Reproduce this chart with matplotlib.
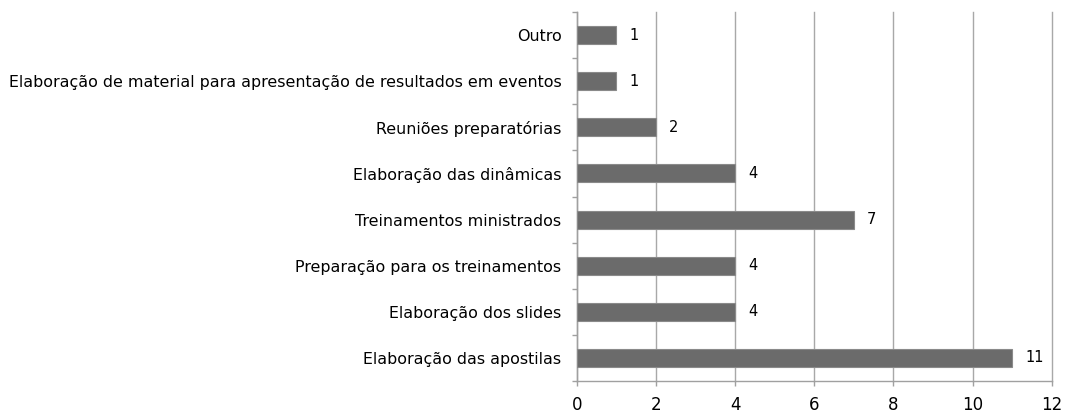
import matplotlib.pyplot as plt

categories = [
    'Elaboração das apostilas',
    'Elaboração dos slides',
    'Preparação para os treinamentos',
    'Treinamentos ministrados',
    'Elaboração das dinâmicas',
    'Reuniões preparatórias',
    'Elaboração de material para apresentação de resultados em eventos',
    'Outro',
]
values = [11, 4, 4, 7, 4, 2, 1, 1]
xticks = [0, 2, 4, 6, 8, 10, 12]

fig = plt.figure(figsize=(10.76, 4.15), dpi=100)
ax = fig.add_axes([0.536, 0.082, 0.4414, 0.889])

pos = list(range(len(categories)))
ax.barh(pos, values, height=0.39, color='#6b6b6b', edgecolor='#8a8a8a', linewidth=0.8, zorder=3)
for p, v in zip(pos, values):
    ax.text(v + 0.33, p, str(v), va='center', ha='left', fontsize=10.5, color='#000000')

ax.set_xlim(0, 12)
ax.set_ylim(-0.5, len(categories) - 0.5)
ax.set_xticks(xticks)
ax.set_xticklabels([str(t) for t in xticks], fontsize=12)
ax.set_yticks(pos)
ax.set_yticklabels(categories, fontsize=11.45)
ax.set_yticks([p - 0.5 for p in pos] + [len(categories) - 0.5], minor=True)
ax.tick_params(axis='y', which='major', length=0, pad=11)
ax.tick_params(axis='y', which='minor', length=3.6, color='#a0a0a0', width=1)
ax.tick_params(axis='x', length=3.6, color='#a0a0a0', width=1, pad=7)
ax.grid(axis='x', color='#a8a8a8', linewidth=1, zorder=0)
# keep the gridline at the right edge fully visible
for line in ax.get_xgridlines():
    line.set_clip_on(False)
for s in ['top', 'right']:
    ax.spines[s].set_visible(False)
for s in ['left', 'bottom']:
    ax.spines[s].set_color('#a0a0a0')
    ax.spines[s].set_linewidth(1)

fig.savefig('out.png', dpi=100)
